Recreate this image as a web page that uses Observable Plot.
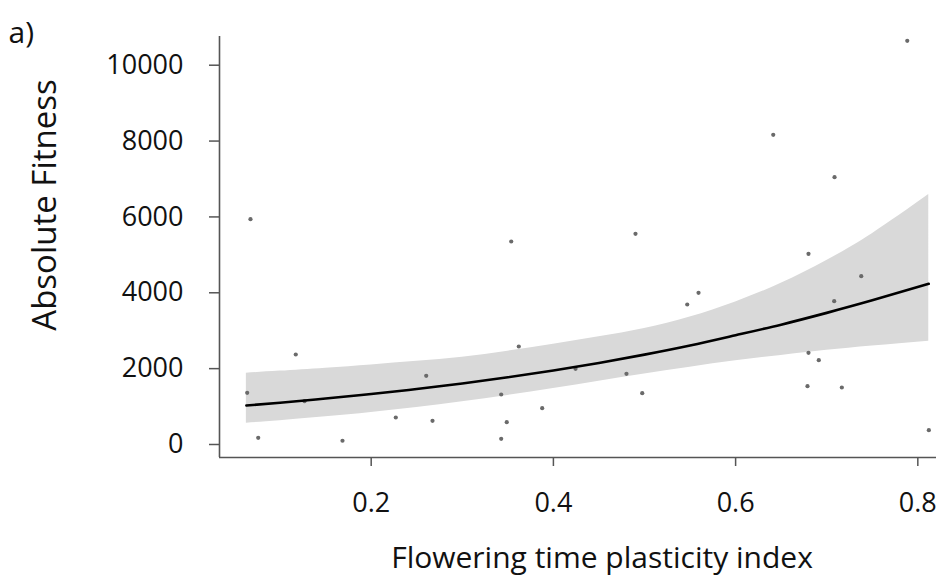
<!DOCTYPE html>
<html><head><meta charset="utf-8">
<script src="https://cdn.jsdelivr.net/npm/d3@7"></script>
<script src="https://cdn.jsdelivr.net/npm/@observablehq/plot@0.6"></script>
<style>body{margin:0;background:#fff;}</style>
</head><body><div id="chart"></div>
<script>
// Observed plants
const plasticity = [0.0675, 0.3537, 0.7884, 0.6413, 0.7086, 0.4901, 0.680, 0.0639, 0.1172, 0.0760, 0.1685, 0.1268,
  0.3620, 0.2604, 0.3427, 0.2270, 0.2673, 0.3488, 0.3877, 0.3427,
  0.5469, 0.4243, 0.4802, 0.4975, 0.5593,
  0.7379, 0.7082, 0.6800, 0.6913, 0.6789, 0.7166, 0.8121];
const fitness = [5940, 5352, 10643, 8165, 7047, 5555, 5028, 1363, 2373, 177, 98, 1142,
  2584, 1811, 1318, 712, 625, 588, 957, 150,
  3691, 1996, 1864, 1353, 4000,
  4437, 3778, 2418, 2223, 1537, 1503, 377];

// Fitted curve and confidence band
const fitX     = [0.063, 0.1, 0.15, 0.2, 0.25, 0.3, 0.35, 0.4, 0.45, 0.5, 0.55, 0.6, 0.65, 0.7, 0.75, 0.812];
const fitMean  = [1028, 1102, 1211, 1331, 1463, 1610, 1772, 1950, 2150, 2370, 2610, 2880, 3160, 3470, 3800, 4237];
const fitLower = [562, 628, 729, 845, 976, 1127, 1293, 1474, 1665, 1857, 2037, 2207, 2349, 2482, 2597, 2725];
const fitUpper = [1880, 1935, 2013, 2098, 2192, 2301, 2460, 2640, 2840, 3060, 3360, 3758, 4250, 4851, 5559, 6589];

const xTicks = [0.2, 0.4, 0.6, 0.8];
const yTicks = [0, 2000, 4000, 6000, 8000, 10000];
const xLabel = "Flowering time plasticity index";
const yLabel = "Absolute Fitness";
const panelTag = "a)";

const xDomain = [0.0335, 0.8205];
const yDomain = [-343, 10757];

const points = plasticity.map((x, i) => ({x, y: fitness[i]}));
const fit = fitX.map((x, i) => ({x, mean: fitMean[i], lo: fitLower[i], hi: fitUpper[i]}));

const font = "'Open Sans', sans-serif";
const chart = Plot.plot({
  width: 940, height: 581,
  marginLeft: 219, marginRight: 4, marginTop: 36, marginBottom: 124,
  style: {fontFamily: font, background: "#fff", color: "#111"},
  x: {domain: xDomain},
  y: {domain: yDomain},
  marks: [
    Plot.areaY(fit, {x: "x", y1: "lo", y2: "hi", fill: "#d9d9d9", curve: "natural"}),
    Plot.dot(points, {x: "x", y: "y", r: 2.1, fill: "#6a6a6a", stroke: "none"}),
    Plot.line(fit, {x: "x", y: "mean", stroke: "#000", strokeWidth: 2.6, curve: "natural"}),
    Plot.ruleX([xDomain[0]], {stroke: "#555", strokeWidth: 1.6}),
    Plot.ruleY([yDomain[0]], {stroke: "#555", strokeWidth: 1.6}),
    Plot.axisX(xTicks, {tickSize: 9, tickPadding: 26, fontSize: 27, label: null, stroke: "#555", strokeWidth: 1.5, tickFormat: d => String(d)}),
    Plot.axisY(yTicks, {tickSize: 10, tickPadding: 26, fontSize: 27, label: null, stroke: "#555", strokeWidth: 1.5, tickFormat: d => String(d)}),
    Plot.text([xLabel], {frameAnchor: "bottom", textAnchor: "middle", dx: 24, dy: 110, fontSize: 30, fill: "#111"}),
    Plot.text([yLabel], {frameAnchor: "left", textAnchor: "middle", rotate: -90, dx: -174, dy: -42, fontSize: 33, fill: "#111"}),
    Plot.text([panelTag], {frameAnchor: "top-left", textAnchor: "start", dx: -211, dy: -15, fontSize: 30, fill: "#111"})
  ]
});
document.getElementById("chart").appendChild(chart);
</script>
</body></html>
